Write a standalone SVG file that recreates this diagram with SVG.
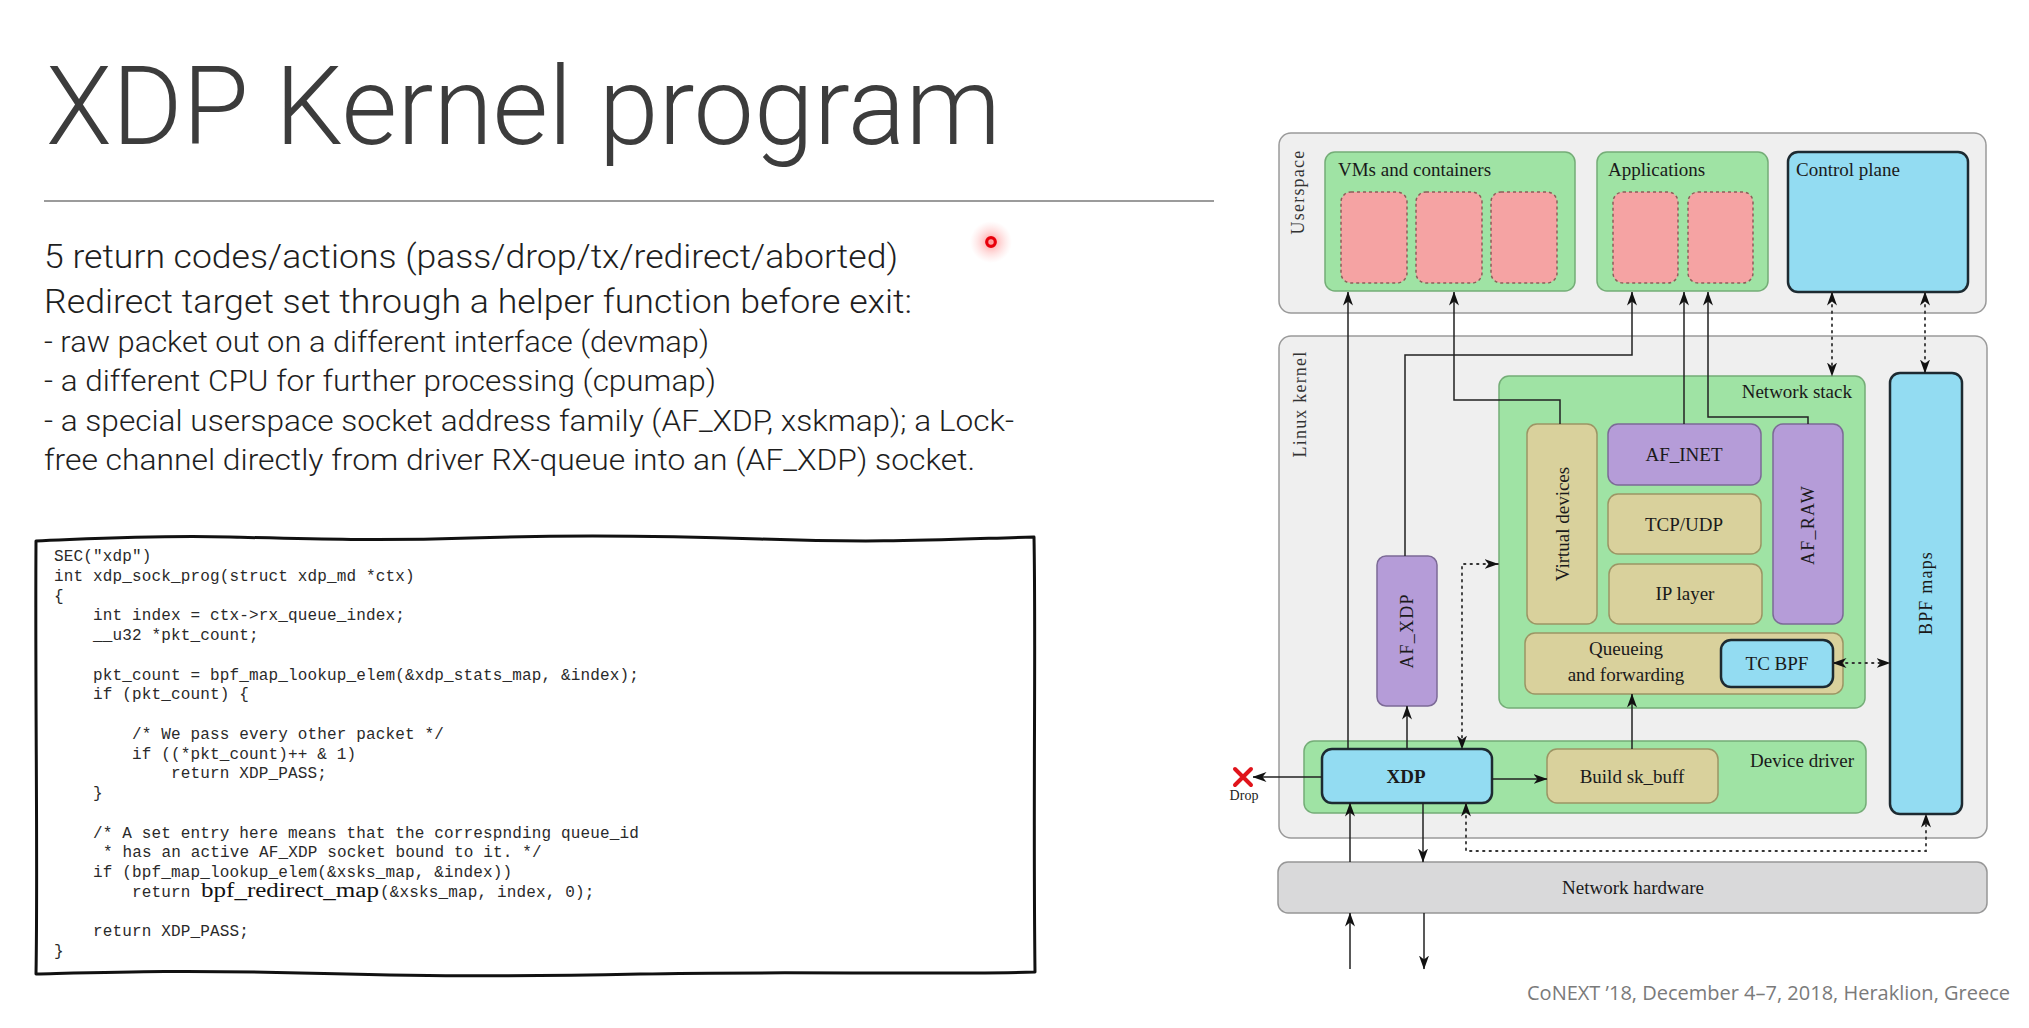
<svg xmlns="http://www.w3.org/2000/svg" width="2029" height="1028" viewBox="0 0 2029 1028">
  <defs>
    <style>
      .title { font-family: Roboto, Inter, "Liberation Sans", sans-serif; font-weight: 300; fill: #3c3c3c; }
      .body { font-family: Roboto, Inter, "Liberation Sans", sans-serif; font-weight: 300; fill: #1e1e1e; }
      .code { font-family: "Liberation Mono", "DejaVu Sans Mono", monospace; font-size: 16px; letter-spacing: 0.15px; fill: #2a2a2a; }
      .lbl { font-family: "Liberation Serif", "DejaVu Serif", serif; font-size: 19px; fill: #1a1a1a; }
      .side { font-family: "Liberation Serif", "DejaVu Serif", serif; font-size: 18px; letter-spacing: 1.2px; fill: #333; }
      .mid { text-anchor: middle; }
      .end { text-anchor: end; }
      .area { fill: #efefef; stroke: #9a9a9a; stroke-width: 1.5; }
      .green { fill: #9fe3a4; stroke: #74ad77; stroke-width: 1.5; }
      .pink { fill: #f5a3a3; stroke: #8d5e5a; stroke-width: 1.5; stroke-dasharray: 3 3; }
      .blue { fill: #93dcf2; stroke: #1d2a31; stroke-width: 2.5; }
      .purple { fill: #b59cd8; stroke: #7c6a96; stroke-width: 1.5; }
      .tan { fill: #d9d19c; stroke: #9c9564; stroke-width: 1.5; }
      .hw { fill: #d9d9da; stroke: #979797; stroke-width: 1.5; }
      .wire { fill: none; stroke: #222; stroke-width: 1.5; }
      .dots { fill: none; stroke: #333; stroke-width: 1.8; stroke-dasharray: 1.5 5; stroke-linecap: round; }
      .arr { marker-end: url(#head); }
      .both { marker-start: url(#head); marker-end: url(#head); }
    </style>
    <marker id="head" viewBox="0 0 14 10" markerWidth="14" markerHeight="10" refX="13.5" refY="5" orient="auto-start-reverse" markerUnits="userSpaceOnUse">
      <path d="M0,0 L14,5 L0,10 L4,5 Z" fill="#111"/>
    </marker>
    <radialGradient id="glow">
      <stop offset="0" stop-color="#ff3b3b" stop-opacity="0.55"/>
      <stop offset="0.5" stop-color="#ff6b6b" stop-opacity="0.25"/>
      <stop offset="1" stop-color="#ff9a9a" stop-opacity="0"/>
    </radialGradient>
  </defs>

  <rect width="2029" height="1028" fill="#ffffff"/>

  <!-- slide heading and rule -->
  <text class="title" x="46" y="144" font-size="110" textLength="955" lengthAdjust="spacingAndGlyphs">XDP Kernel program</text>
  <line x1="44" y1="201" x2="1214" y2="201" stroke="#9b9b9b" stroke-width="2"/>

  <!-- bullet text -->
  <g id="bullets">
    <text class="body" x="44" y="268" font-size="34" textLength="854" lengthAdjust="spacingAndGlyphs">5 return codes/actions (pass/drop/tx/redirect/aborted)</text>
    <text class="body" x="44" y="313" font-size="34" textLength="868" lengthAdjust="spacingAndGlyphs">Redirect target set through a helper function before exit:</text>
    <text class="body" x="44" y="352" font-size="30" textLength="665" lengthAdjust="spacingAndGlyphs">- raw packet out on a different interface (devmap)</text>
    <text class="body" x="44" y="391" font-size="30" textLength="672" lengthAdjust="spacingAndGlyphs">- a different CPU for further processing (cpumap)</text>
    <text class="body" x="44" y="431" font-size="30" textLength="970" lengthAdjust="spacingAndGlyphs">- a special userspace socket address family (AF_XDP, xskmap); a Lock-</text>
    <text class="body" x="44" y="470" font-size="30" textLength="931" lengthAdjust="spacingAndGlyphs">free channel directly from driver RX-queue into an (AF_XDP) socket.</text>
  </g>

  <!-- pointer dot -->
  <g id="pointer">
    <circle cx="991" cy="242" r="21" fill="url(#glow)"/>
    <circle cx="991" cy="242" r="4.3" fill="none" stroke="#e8000b" stroke-width="3.2"/>
  </g>

  <!-- code listing in a hand-drawn frame -->
  <g id="code-listing">
    <path d="M36,541 C90,539 150,535 230,537 S380,541 470,538 S640,535 760,539 S930,540 1034,537
             C1036,640 1033,800 1035,972
             C930,975 780,971 640,974 S420,976 300,973 S120,972 36,974
             C38,860 35,700 36,541 Z"
          fill="none" stroke="#111" stroke-width="3" stroke-linejoin="round"/>
    <text class="code" x="54" y="561">SEC("xdp")</text>
    <text class="code" x="54" y="581">int xdp_sock_prog(struct xdp_md *ctx)</text>
    <text class="code" x="54" y="601">{</text>
    <text class="code" x="93" y="620">int index = ctx-&gt;rx_queue_index;</text>
    <text class="code" x="93" y="640">__u32 *pkt_count;</text>
    <text class="code" x="93" y="680">pkt_count = bpf_map_lookup_elem(&amp;xdp_stats_map, &amp;index);</text>
    <text class="code" x="93" y="699">if (pkt_count) {</text>
    <text class="code" x="132" y="739">/* We pass every other packet */</text>
    <text class="code" x="132" y="759">if ((*pkt_count)++ &amp; 1)</text>
    <text class="code" x="171" y="778">return XDP_PASS;</text>
    <text class="code" x="93" y="798">}</text>
    <text class="code" x="93" y="838">/* A set entry here means that the correspnding queue_id</text>
    <text class="code" x="103" y="857">* has an active AF_XDP socket bound to it. */</text>
    <text class="code" x="93" y="877">if (bpf_map_lookup_elem(&amp;xsks_map, &amp;index))</text>
    <text class="code" x="132" y="897">return</text>
    <text x="201" y="897" font-family="'Liberation Serif', serif" font-size="20" fill="#111" textLength="178" lengthAdjust="spacingAndGlyphs">bpf_redirect_map</text>
    <text class="code" x="380" y="897">(&amp;xsks_map, index, 0);</text>
    <text class="code" x="93" y="936">return XDP_PASS;</text>
    <text class="code" x="54" y="956">}</text>
  </g>

  <!-- architecture diagram: areas -->
  <g id="userspace">
    <rect class="area" x="1279" y="133" width="707" height="180" rx="12"/>
    <text class="side mid" transform="rotate(-90 1298 192)" x="1298" y="198">Userspace</text>
  </g>
  <g id="linux-kernel">
    <rect class="area" x="1279" y="336" width="708" height="502" rx="12"/>
    <text class="side mid" transform="rotate(-90 1300 404)" x="1300" y="410">Linux kernel</text>
  </g>

  <g id="vms-and-containers">
    <rect class="green" x="1325" y="152" width="250" height="139" rx="10"/>
    <text class="lbl" x="1338" y="176" font-size="20">VMs and containers</text>
    <rect class="pink" x="1341" y="192" width="66" height="91" rx="10"/>
    <rect class="pink" x="1416" y="192" width="66" height="91" rx="10"/>
    <rect class="pink" x="1491" y="192" width="66" height="91" rx="10"/>
  </g>
  <g id="applications">
    <rect class="green" x="1597" y="152" width="171" height="139" rx="10"/>
    <text class="lbl" x="1608" y="176" font-size="20">Applications</text>
    <rect class="pink" x="1613" y="192" width="65" height="91" rx="10"/>
    <rect class="pink" x="1688" y="192" width="65" height="91" rx="10"/>
  </g>
  <g id="control-plane">
    <rect class="blue" x="1788" y="152" width="180" height="140" rx="10"/>
    <text class="lbl" x="1796" y="176" font-size="20">Control plane</text>
  </g>

  <g id="network-stack">
    <rect class="green" x="1499" y="376" width="366" height="332" rx="10"/>
    <text class="lbl end" x="1852" y="398" font-size="20">Network stack</text>
  </g>
  <g id="virtual-devices">
    <rect class="tan" x="1527" y="424" width="70" height="200" rx="10"/>
    <text class="lbl mid" transform="rotate(-90 1562 524)" x="1562" y="531" font-size="20">Virtual devices</text>
  </g>
  <g id="af-inet">
    <rect class="purple" x="1608" y="424" width="153" height="61" rx="10"/>
    <text class="lbl mid" x="1684" y="461">AF_INET</text>
  </g>
  <g id="tcp-udp">
    <rect class="tan" x="1608" y="494" width="153" height="60" rx="10"/>
    <text class="lbl mid" x="1684" y="531">TCP/UDP</text>
  </g>
  <g id="ip-layer">
    <rect class="tan" x="1609" y="564" width="153" height="60" rx="10"/>
    <text class="lbl mid" x="1685" y="600">IP layer</text>
  </g>
  <g id="af-raw">
    <rect class="purple" x="1773" y="424" width="70" height="200" rx="10"/>
    <text class="side mid" transform="rotate(-90 1808 525)" x="1808" y="531" style="fill:#1a1a1a">AF_RAW</text>
  </g>
  <g id="queueing">
    <rect class="tan" x="1525" y="633" width="318" height="61" rx="10"/>
    <text class="lbl mid" x="1626" y="655">Queueing</text>
    <text class="lbl mid" x="1626" y="681">and forwarding</text>
  </g>
  <g id="tc-bpf">
    <rect class="blue" x="1721" y="640" width="112" height="47" rx="10"/>
    <text class="lbl mid" x="1777" y="670">TC BPF</text>
  </g>
  <g id="bpf-maps">
    <rect class="blue" x="1890" y="373" width="72" height="441" rx="10"/>
    <text class="side mid" transform="rotate(-90 1926 593)" x="1926" y="599" style="fill:#1a1a1a">BPF maps</text>
  </g>
  <g id="af-xdp">
    <rect class="purple" x="1377" y="556" width="60" height="150" rx="9"/>
    <text class="side mid" transform="rotate(-90 1407 631)" x="1407" y="637" style="fill:#1a1a1a">AF_XDP</text>
  </g>
  <g id="device-driver">
    <rect class="green" x="1304" y="741" width="562" height="72" rx="10"/>
    <text class="lbl end" x="1854" y="767" font-size="20">Device driver</text>
  </g>
  <g id="xdp">
    <rect class="blue" x="1322" y="749" width="170" height="54" rx="10"/>
    <text class="lbl mid" x="1406" y="783" font-weight="bold">XDP</text>
  </g>
  <g id="build-sk-buff">
    <rect class="tan" x="1547" y="749" width="171" height="54" rx="10"/>
    <text class="lbl mid" x="1632" y="783">Build sk_buff</text>
  </g>
  <g id="network-hardware">
    <rect class="hw" x="1278" y="862" width="709" height="51" rx="10"/>
    <text class="lbl mid" x="1633" y="894" font-size="20">Network hardware</text>
  </g>
  <g id="drop">
    <path d="M1235,769 L1251,785 M1251,769 L1235,785" stroke="#e0141b" stroke-width="4" stroke-linecap="round"/>
    <text x="1244" y="800" font-family="'Liberation Serif', serif" font-size="14" fill="#222" text-anchor="middle">Drop</text>
  </g>

  <!-- connectors -->
  <g id="connectors">
    <path class="wire arr" d="M1348,749 V292"/>
    <path class="wire arr" d="M1560,424 V400 H1454 V292"/>
    <path class="wire arr" d="M1405,556 V355 H1632 V292"/>
    <path class="wire arr" d="M1684,424 V292"/>
    <path class="wire arr" d="M1808,424 V417 H1708 V292"/>
    <path class="wire arr" d="M1407,749 V706"/>
    <path class="wire arr" d="M1632,749 V694"/>
    <path class="wire arr" d="M1492,779 H1547"/>
    <path class="wire arr" d="M1322,777 H1253"/>
    <path class="wire arr" d="M1350,862 V803"/>
    <path class="wire arr" d="M1423,803 V862"/>
    <path class="wire arr" d="M1350,969 V913"/>
    <path class="wire arr" d="M1424,913 V969"/>
    <path class="dots both" d="M1832,292 V376"/>
    <path class="dots both" d="M1925,292 V373"/>
    <path class="dots both" d="M1498,564 H1462 V749"/>
    <path class="dots both" d="M1833,663 H1890"/>
    <path class="dots both" d="M1466,803 V851 H1926 V814"/>
  </g>

  <text x="2010" y="1000" font-family="'Open Sans', 'Liberation Sans', sans-serif" font-size="20" fill="#7a7a7a" text-anchor="end">CoNEXT ’18, December 4–7, 2018, Heraklion, Greece</text>
</svg>
